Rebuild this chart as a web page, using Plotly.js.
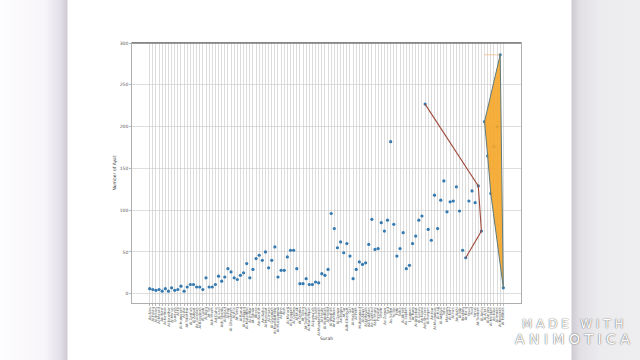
<!DOCTYPE html>
<html>
<head>
<meta charset="utf-8">
<script src="https://cdn.plot.ly/plotly-3.0.1.min.js"></script>
<style>
html,body{margin:0;padding:0;width:640px;height:360px;overflow:hidden;}
body{background:linear-gradient(to right,#fdfcfe 0px,#f7f5f9 45px,#e4e0e8 60px,#cfcad4 67px,#ffffff 68px,#ffffff 571px,#cfcbd3 572px,#e2e0e5 580px,#ecebee 600px,#eeedf0 640px);}
#chart{width:640px;height:360px;}
</style>
</head>
<body>
<div id="chart"></div>
<script>
// Surahs in reverse mushaf order (114 -> 1)
const surahs = ["An-Nas","Al-Falaq","Al-Ikhlas","Al-Masad","An-Nasr","Al-Kafirun","Al-Kawthar","Al-Ma'un","Quraysh","Al-Fil",
"Al-Humazah","Al-Asr","At-Takathur","Al-Qari'ah","Al-Adiyat","Az-Zalzalah","Al-Bayyinah","Al-Qadr","Al-Alaq","At-Tin",
"Ash-Sharh","Ad-Duha","Al-Layl","Ash-Shams","Al-Balad","Al-Fajr","Al-Ghashiyah","Al-A'la","At-Tariq","Al-Buruj",
"Al-Inshiqaq","Al-Mutaffifin","Al-Infitar","At-Takwir","Abasa","An-Nazi'at","An-Naba","Al-Mursalat","Al-Insan","Al-Qiyamah",
"Al-Muddaththir","Al-Muzzammil","Al-Jinn","Nuh","Al-Ma'arij","Al-Haqqah","Al-Qalam","Al-Mulk","At-Tahrim","At-Talaq",
"At-Taghabun","Al-Munafiqun","Al-Jumu'ah","As-Saff","Al-Mumtahanah","Al-Hashr","Al-Mujadilah","Al-Hadid","Al-Waqi'ah","Ar-Rahman",
"Al-Qamar","An-Najm","At-Tur","Adh-Dhariyat","Qaf","Al-Hujurat","Al-Fath","Muhammad","Al-Ahqaf","Al-Jathiyah",
"Ad-Dukhan","Az-Zukhruf","Ash-Shura","Fussilat","Ghafir","Az-Zumar","Sad","As-Saffat","Ya-Sin","Fatir",
"Saba","Al-Ahzab","As-Sajdah","Luqman","Ar-Rum","Al-Ankabut","Al-Qasas","An-Naml","Ash-Shu'ara","Al-Furqan",
"An-Nur","Al-Mu'minun","Al-Hajj","Al-Anbiya","Taha","Maryam","Al-Kahf","Al-Isra","An-Nahl","Al-Hijr",
"Ibrahim","Ar-Ra'd","Yusuf","Hud","Yunus","At-Tawbah","Al-Anfal","Al-A'raf","Al-An'am","Al-Ma'idah",
"An-Nisa","Al-Imran","Al-Baqarah","Al-Fatihah"];

const ayat = [6,5,4,5,3,6,3,7,4,5,
9,3,8,11,11,8,8,5,19,8,
8,11,21,15,20,30,26,19,17,22,
25,36,19,29,42,46,40,50,31,40,
56,20,28,28,44,52,52,30,12,12,
18,11,11,14,13,24,22,29,96,78,
55,62,49,60,45,18,29,38,35,37,
59,89,53,54,85,75,88,182,83,45,
54,73,30,34,60,69,88,93,227,77,
64,118,78,112,135,98,110,111,128,99,
52,43,111,123,109,129,75,206,165,120,
176,200,286,7];

// red line subset
const lineSurahs = ["Ash-Shu'ara","At-Tawbah","Al-Anfal","Ar-Ra'd"];
const lineAyat = [227,129,75,43];

// filled polygon subset
const polySurahs = ["Al-Baqarah","Al-A'raf","Al-An'am","Al-Ma'idah","Al-Fatihah","Al-Baqarah"];
const polyAyat = [286,206,165,120,7,286];

// short top segment
const topSurahs = ["Al-A'raf","Al-Baqarah"];
const topAyat = [286,286];

const yTicks = [0,50,100,150,200,250,300];

const traces = [
  {x: surahs, y: ayat, type:'scatter', mode:'markers',
   marker:{color:'#3479b0', size:3.2}, hoverinfo:'x+y'},
  {x: lineSurahs, y: lineAyat, type:'scatter', mode:'lines',
   line:{color:'#a04a3c', width:1.1}},
  {x: polySurahs, y: polyAyat, type:'scatter', mode:'lines', fill:'toself',
   fillcolor:'rgba(245,166,40,0.9)', line:{color:'#5f7a7c', width:1}},
  {x: topSurahs, y: topAyat, type:'scatter', mode:'lines',
   line:{color:'rgba(245,170,90,0.55)', width:1}}
];

const layout = {
  width:640, height:360,
  margin:{l:132, r:119, t:43, b:57},
  paper_bgcolor:'rgba(0,0,0,0)',
  plot_bgcolor:'#ffffff',
  showlegend:false,
  font:{family:'DejaVu Sans', color:'#444'},
  xaxis:{
    type:'category',
    range:[-5.65, 118.65],
    tickmode:'array', tickvals:surahs, ticktext:surahs,
    tickangle:-90,
    tickfont:{size:3.6, color:'#555'},
    ticks:'outside', ticklen:2, tickcolor:'#777', tickwidth:0.5,
    showgrid:true, gridcolor:'#c4c4c4', gridwidth:0.6,
    showline:true, linecolor:'#9a9a9a', linewidth:0.8, mirror:true,
    zeroline:false,
    title:{text:'Surah', font:{size:4.5, color:'#444'}, standoff:2}
  },
  yaxis:{
    range:[-11.15, 300.15],
    tickmode:'array', tickvals:yTicks, ticktext:yTicks.map(String),
    tickfont:{size:4.5, color:'#555'},
    ticks:'outside', ticklen:2, tickcolor:'#777', tickwidth:0.5,
    showgrid:true, gridcolor:'#c8c8c8', gridwidth:0.6,
    showline:true, linecolor:'#9a9a9a', linewidth:0.8, mirror:true,
    zeroline:false,
    title:{text:'Number of Ayat', font:{size:4.5, color:'#444'}, standoff:3}
  },
  shapes:[
    {type:'line', xref:'paper', yref:'paper', x0:0, x1:1, y0:1, y1:1,
     line:{color:'#7a7a7a', width:1.4}}
  ],
  annotations:[
    {xref:'paper', yref:'paper', x:(572-132)/389, y:(303-324)/260,
     text:'M A D E   W I T H', showarrow:false, xanchor:'center', yanchor:'middle',
     font:{family:'DejaVu Sans', size:12, color:'#ffffff', shadow:'0 0 1.5px #777, 0 0 1px #777'}},
    {xref:'paper', yref:'paper', x:(572-132)/389, y:(303-339)/260,
     text:'A N I M O T I C A', showarrow:false, xanchor:'center', yanchor:'middle',
     font:{family:'DejaVu Sans', size:14, color:'#ffffff', shadow:'0 0 1.5px #777, 0 0 1px #777'}}
  ]
};

Plotly.newPlot('chart', traces, layout, {staticPlot:true, displayModeBar:false});
</script>
</body>
</html>
